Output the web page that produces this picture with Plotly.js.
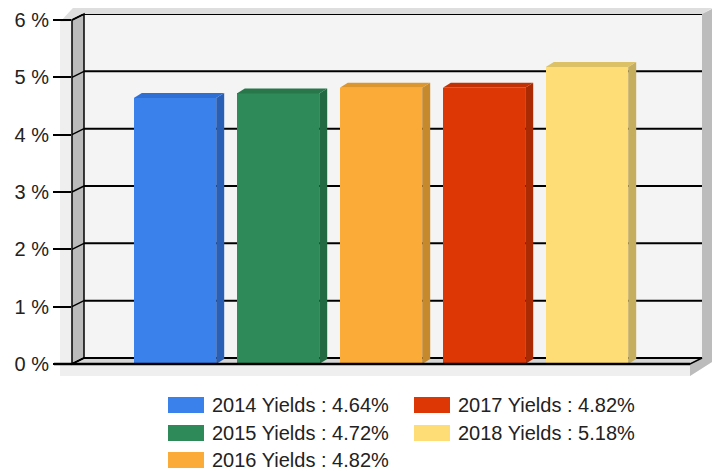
<!DOCTYPE html>
<html>
<head>
<meta charset="utf-8">
<script src="https://cdn.plot.ly/plotly-3.0.1.min.js"></script>
<style>html,body{margin:0;padding:0;background:#fff;}#chart{width:717px;height:471px;}</style>
</head>
<body>
<div id="chart"></div>
<script>
// ---- data ----
const years = ['2014', '2015', '2016', '2017', '2018'];
const yields = [4.64, 4.72, 4.82, 4.82, 5.18];
const yTicks = [0, 1, 2, 3, 4, 5, 6];
const yTickText = ['0 %', '1 %', '2 %', '3 %', '4 %', '5 %', '6 %'];
const frontColors = ['#3a81ec', '#2e8a58', '#fbab37', '#dc3704', '#fedd77'];
const topColors = ['#2f6fd3', '#27774b', '#dc962f', '#c23104', '#dcc167'];
const sideColors = ['#2a5fb6', '#226a41', '#c6892c', '#a92a03', '#c6ae5f'];

// ---- geometry (pixels) ----
const W = 717, H = 471;
const L = 72, R = 700, T = 14, B = 364;
const pw = R - L, ph = B - T;
const unitX = 103, unitY = 57.333;
const xRange = [0, pw / unitX];
const yRange = [0, ph / unitY];
const wallDX = 12, wallDY = 6;
const barDX = 8, barDY = 5;
const barW = 0.8;
const px = x => (x - L) / pw;
const py = y => (B - y) / ph;
const FONT = 'Liberation Sans, Arial, sans-serif';

const traces = [];
const xs = years.map((_, i) => i + 1);
years.forEach((yr, i) => {
  const v = yields[i];
  const xc = xs[i];
  const xl = xc - barW / 2, xr = xc + barW / 2;
  const dx = barDX / unitX, dy = barDY / unitY;
  traces.push({
    type: 'bar', x: [xc], y: [v], width: barW, marker: {color: frontColors[i], line: {width: 0}},
    name: yr + ' Yields : ' + v.toFixed(2) + '%', hoverinfo: 'skip', showlegend: false
  });
  traces.push({
    type: 'scatter', mode: 'lines', fill: 'toself', fillcolor: sideColors[i],
    line: {width: 0, color: sideColors[i]}, hoverinfo: 'skip', showlegend: false,
    x: [xr, xr, xr + dx, xr + dx, xr], y: [0, v, v + dy, dy, 0]
  });
  traces.push({
    type: 'scatter', mode: 'lines', fill: 'toself', fillcolor: topColors[i],
    line: {width: 0, color: topColors[i]}, hoverinfo: 'skip', showlegend: false,
    x: [xl, xr, xr + dx, xl + dx, xl], y: [v, v, v + dy, v + dy, v]
  });
});

const poly = pts => 'M' + pts.map(p => px(p[0]) + ',' + py(p[1])).join('L') + 'Z';
const shapes = [];
// outer frame
shapes.push({type: 'path', xref: 'paper', yref: 'paper', layer: 'below',
  path: poly([[60, 22], [73, 8], [712, 8], [712, 362], [690, 376], [60, 376]]),
  fillcolor: '#efefef', line: {width: 0}});
// top band
shapes.push({type: 'path', xref: 'paper', yref: 'paper', layer: 'below',
  path: poly([[60, 22], [73, 8], [712, 8], [702, 14], [84, 14], [72, 21]]),
  fillcolor: '#dedede', line: {width: 0}});
// right strip
shapes.push({type: 'path', xref: 'paper', yref: 'paper', layer: 'below',
  path: poly([[702, 14], [712, 9], [712, 362], [690, 376], [690, 364], [702, 358]]),
  fillcolor: '#bcbcbc', line: {width: 0}});
// back wall
shapes.push({type: 'path', xref: 'paper', yref: 'paper', layer: 'below',
  path: poly([[84, 14], [702, 14], [702, 358], [84, 358]]),
  fillcolor: '#f4f4f4', line: {width: 0}});
// left wall
shapes.push({type: 'path', xref: 'paper', yref: 'paper', layer: 'below',
  path: poly([[72, 20], [84, 14], [84, 358], [72, 364]]),
  fillcolor: '#bbbbbb', line: {width: 1.5, color: '#000'}});
// floor
shapes.push({type: 'path', xref: 'paper', yref: 'paper', layer: 'below',
  path: poly([[72, 364], [84, 358], [702, 358], [690, 364]]),
  fillcolor: '#d6d6d6', line: {width: 1.5, color: '#000'}});
// gridlines on back wall + connectors
const dyBack = wallDY / unitY;
yTicks.forEach(v => {
  shapes.push({type: 'line', xref: 'paper', yref: 'y', layer: 'below',
    x0: px(84), x1: px(702), y0: v + dyBack, y1: v + dyBack,
    line: {color: '#000', width: 2}});
  shapes.push({type: 'line', xref: 'paper', yref: 'y', layer: 'below',
    x0: 0, x1: px(84), y0: v, y1: v + dyBack,
    line: {color: '#000', width: 1.5}});
});
// front floor line
shapes.push({type: 'line', xref: 'paper', yref: 'paper', layer: 'above',
  x0: px(54), x1: px(690), y0: py(364), y1: py(364), line: {color: '#000', width: 2.5}});

// legend (custom, column-major)
const legendX = [168, 414];
const legendY = [405, 433, 460];
const annotations = [];
years.forEach((yr, i) => {
  const col = Math.floor(i / 3), row = i % 3;
  const x0 = legendX[col], yc = legendY[row];
  shapes.push({type: 'rect', xref: 'paper', yref: 'paper',
    x0: px(x0), x1: px(x0 + 36), y0: py(yc - 8), y1: py(yc + 8),
    fillcolor: frontColors[i], line: {width: 0}});
  annotations.push({xref: 'paper', yref: 'paper', x: px(x0 + 43), y: py(yc),
    xanchor: 'left', yanchor: 'middle', showarrow: false, borderpad: 0,
    text: yr + ' Yields : ' + yields[i].toFixed(2) + '%',
    font: {family: FONT, size: 20, color: '#222'}});
});

const layout = {
  width: W, height: H,
  margin: {l: L, r: W - R, t: T, b: H - B, pad: 0},
  paper_bgcolor: '#fff', plot_bgcolor: 'rgba(0,0,0,0)',
  showlegend: false,
  bargap: 0,
  xaxis: {range: xRange, showgrid: false, zeroline: false, showticklabels: false, ticks: '', showline: false, fixedrange: true},
  yaxis: {range: yRange, tickvals: yTicks, ticktext: yTickText, ticks: 'outside', ticklen: 18,
    tickwidth: 2, tickcolor: '#000', showgrid: false, zeroline: false, showline: false,
    tickfont: {family: FONT, size: 20, color: '#222'}, fixedrange: true},
  shapes: shapes,
  annotations: annotations
};

Plotly.newPlot('chart', traces, layout, {displayModeBar: false, staticPlot: true});
</script>
</body>
</html>
